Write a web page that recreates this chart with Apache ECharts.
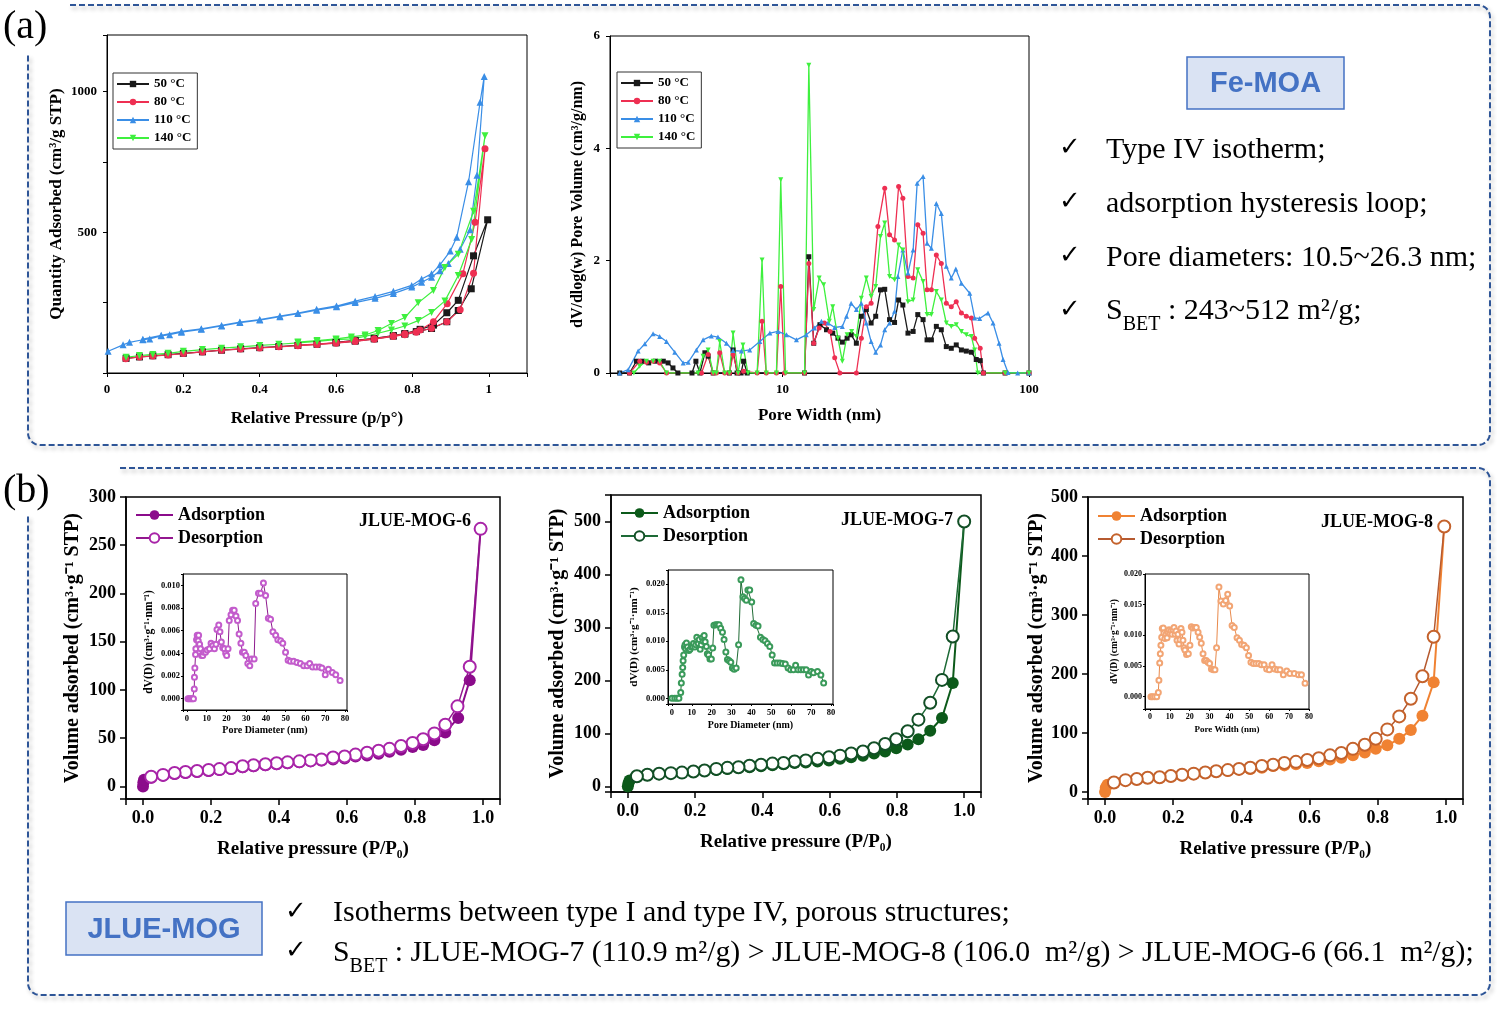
<!DOCTYPE html>
<html><head><meta charset="utf-8">
<script src="https://cdn.jsdelivr.net/npm/echarts@6.0.0/dist/echarts.min.js"></script>
<style>html,body{margin:0;padding:0;background:#fff}#c{width:1505px;height:1010px}</style>
</head><body><div id="c"></div><script>
// ================= DATA =================
// (a) left: N2 isotherms of Fe-MOA (adsorption branch, then desorption branch)
const aIso50_adsX = [0.05,0.085,0.12,0.16,0.2,0.25,0.3,0.35,0.4,0.45,0.5,0.55,0.6,0.65,0.7,0.75,0.78,0.81,0.85,0.89,0.92,0.954,0.997];
const aIso50_adsY = [52,57,61,65,70,75,81,86,90,94,98,102,107,113,121,131,138,147,158,182,222,299,544];
const aIso50_desX = [0.96,0.92,0.89,0.855,0.82,0.78,0.75,0.7,0.65,0.6];
const aIso50_desY = [416,258,214,170,155,140,133,123,116,109];

const aIso80_adsX = [0.049,0.085,0.12,0.16,0.2,0.25,0.3,0.35,0.4,0.45,0.5,0.55,0.6,0.65,0.7,0.75,0.78,0.81,0.85,0.89,0.925,0.96,0.99];
const aIso80_adsY = [51,57,60,64,69,75,81,85,89,93,97,101,106,112,120,130,136,145,159,182,225,354,796];
const aIso80_desX = [0.964,0.932,0.891,0.855,0.82,0.78,0.75,0.7,0.65,0.6,0.55,0.5];
const aIso80_desY = [535,352,246,182,153,139,132,122,115,108,103,99];

const aIso110_adsX = [0.003,0.042,0.059,0.094,0.112,0.142,0.164,0.195,0.247,0.3,0.348,0.4,0.453,0.5,0.549,0.601,0.65,0.702,0.75,0.798,0.824,0.85,0.872,0.894,0.925,0.951,0.969,0.988];
const aIso110_adsY = [77,100,109,118,121,132,136,145,155,167,179,188,200,211,223,235,250,265,282,305,322,340,363,389,439,509,702,1053];
const aIso110_desX = [0.977,0.947,0.916,0.899,0.872,0.85,0.824,0.798,0.75,0.702,0.65,0.601,0.549,0.5,0.453,0.4,0.348,0.3,0.247,0.195,0.142,0.094];
const aIso110_desY = [961,679,482,433,384,352,334,311,290,272,255,238,226,213,202,190,181,169,157,148,134,120];

const aIso140_adsX = [0.05,0.085,0.12,0.16,0.2,0.25,0.3,0.35,0.4,0.45,0.5,0.55,0.6,0.64,0.676,0.71,0.745,0.78,0.815,0.85,0.885,0.92,0.955,0.99];
const aIso140_adsY = [56,62,66,70,77,83,88,93,98,102,107,112,118,121,130,141,153,167,186,215,256,346,474,842];
const aIso140_desX = [0.96,0.92,0.885,0.855,0.815,0.78,0.745,0.71,0.676,0.64,0.6,0.55,0.5];
const aIso140_desY = [574,422,375,293,249,197,176,151,135,128,121,115,110];

// (a) right: pore size distribution (pore width nm, dV/dlog(w))
const aPsd50X = [2.19,2.4,2.56,2.7,2.87,3.06,3.29,3.44,3.6,3.77,4.3,4.46,4.63,4.85,5.0,5.24,6.1,6.31,6.55,6.8,6.96,7.2,12.3,12.8,13.4,14.2,15.1,16.0,16.8,17.5,18.3,19.0,19.95,20.9,21.9,22.9,23.9,25.0,26.0,27.2,28.5,29.6,30.8,32.3,33.9,35.4,37.2,38.6,40.2,42.1,44.1,46.2,48.4,50.7,53.2,55.7,58.4,61.1,63.4,65.3,80,100];
const aPsd50Y = [0,0,0.21,0.21,0.18,0.21,0.21,0.18,0.09,0,0,0.21,0,0.36,0.30,0,0,0.41,0,0,0.21,0,0,2.07,0.53,0.86,0.77,0.71,0.62,0.55,0.62,0.68,0.53,1.01,1.13,0.89,1.01,1.48,1.49,0.95,0.90,1.30,1.21,0.71,0.74,1.04,0.95,0.59,0.59,0.83,0.77,0.47,0.44,0.50,0.41,0.39,0.37,0.24,0.22,0,0,0];
const aPsd80X = [2.4,2.64,2.81,2.99,3.18,3.39,4.7,5.0,5.24,5.4,5.57,5.84,6.1,6.31,6.61,6.96,7.9,8.27,8.6,9.46,9.85,10.2,12.3,12.8,13.4,14.1,14.8,15.6,16.3,17.1,19.95,20.9,21.9,22.9,24.4,26.0,27.2,28.5,29.6,30.8,32.3,33.9,35.4,37.2,38.6,40.2,42.1,44.1,46.2,48.4,50.7,53.2,55.7,58.4,60.2,63.4,65.3,80,100];
const aPsd80Y = [0,0.21,0.19,0.21,0.18,0,0,0.33,0,0,0.36,0,0,0.33,0,0.03,0,0.92,0,0,1.54,0,0,1.95,0.53,0.80,0.89,0.74,0.27,0,0,0.62,1.18,1.24,2.61,3.29,2.46,2.37,3.32,3.11,1.72,1.69,2.64,2.49,1.48,1.48,2.10,1.95,1.24,1.18,1.27,1.07,1.01,0.98,0.62,0.44,0,0,0];
const aPsd110X = [2.19,2.37,2.6,2.77,2.99,3.18,3.39,3.66,3.96,4.15,4.48,4.77,5.15,5.48,5.93,6.31,6.82,7.37,8.1,8.9,9.6,10.4,11.4,12.5,13.5,14.4,15.3,16.3,17.5,18.2,19.0,19.95,20.9,21.9,22.9,23.9,25.0,26.0,27.2,28.5,29.4,30.8,32.3,33.9,35.2,37.2,38.6,40.2,42.1,44.1,46.2,48.4,50.5,53.2,57.5,60.2,63.1,68.2,71.5,75.6,78.5,82.2,90,100];
const aPsd110Y = [0,0.06,0.39,0.52,0.70,0.65,0.56,0.37,0.18,0.19,0.41,0.59,0.66,0.64,0.53,0.40,0.39,0.41,0.56,0.71,0.74,0.68,0.59,0.68,0.80,0.92,0.89,0.81,0.83,1.01,1.24,1.13,1.24,0.89,0.56,0.37,0.50,0.77,0.89,1.10,1.72,2.19,1.78,2.19,3.38,3.50,2.31,2.22,3.02,2.84,1.90,1.69,1.85,1.60,1.42,0.98,0.97,1.07,0.89,0.53,0.24,0.01,0,0];
const aPsd140X = [2.5,2.64,2.81,2.99,3.18,3.39,4.55,4.77,5.0,5.24,5.4,5.57,5.84,6.1,6.31,6.61,6.92,7.25,7.9,8.27,8.6,9.46,9.85,10.3,12.3,12.8,13.4,14.1,14.7,15.5,16.0,16.8,17.5,18.3,19.1,19.95,20.9,21.9,22.9,23.9,25.0,26.0,27.2,28.5,29.6,30.8,32.3,33.9,35.4,37.2,38.6,40.2,42.1,44.1,46.2,48.4,50.7,53.2,55.7,58.4,60.2,62,80,100];
const aPsd140Y = [0,0.12,0.21,0.21,0.21,0,0,0.30,0.41,0,0,0.56,0,0,0.71,0,0.50,0,0,2.01,0,0,3.44,0,0,5.48,1.13,1.69,1.57,0.92,1.18,0.62,0.21,0.68,0.74,0.65,1.33,1.69,1.36,1.54,2.43,2.67,1.72,1.66,2.28,2.19,1.27,1.30,1.84,1.63,1.04,1.04,1.45,1.30,0.89,0.83,0.86,0.74,0.68,0.65,0.41,0,0,0];

// (b) JLUE-MOG isotherms
const mog6_adsX = [0,0.001,0.003,0.024,0.059,0.093,0.125,0.159,0.193,0.225,0.259,0.293,0.325,0.36,0.393,0.425,0.46,0.493,0.525,0.559,0.593,0.625,0.659,0.693,0.725,0.759,0.793,0.824,0.857,0.889,0.927,0.961,0.993];
const mog6_adsY = [0,4,7,9,11,13,14,15,16,17,18,20,21,22,23,24,25,26,27,28,29,31,32,34,36,38,41,43,48,56,71,110,267];
const mog6_desX = [0.993,0.961,0.925,0.889,0.857,0.824,0.793,0.759,0.725,0.693,0.659,0.625,0.593,0.559,0.525,0.493,0.46,0.425,0.393,0.36,0.325,0.293,0.259,0.225,0.193,0.159,0.125,0.093,0.059,0.024];
const mog6_desY = [267,124,83,64,55,49,45,42,39,37,35,33,31,30,28,27,26,25,24,23,22,21,19,18,17,16,15,14,12,10];

const mog7_adsX = [0,0.002,0.005,0.027,0.058,0.093,0.128,0.161,0.195,0.228,0.263,0.296,0.329,0.362,0.396,0.43,0.463,0.496,0.529,0.564,0.598,0.631,0.664,0.699,0.732,0.765,0.798,0.832,0.864,0.899,0.934,0.966,1.0];
const mog7_adsY = [0,6,11,18,21,23,25,26,28,30,31,33,35,36,38,40,42,44,45,47,49,52,55,58,62,66,72,79,89,105,129,195,500];
const mog7_desX = [1.0,0.966,0.934,0.899,0.864,0.832,0.798,0.765,0.732,0.699,0.664,0.631,0.598,0.564,0.529,0.496,0.463,0.43,0.396,0.362,0.329,0.296,0.263,0.228,0.195,0.161,0.128,0.093,0.058,0.027];
const mog7_desY = [500,283,201,158,126,104,89,80,72,66,62,58,55,52,49,47,44,43,41,39,36,35,33,30,28,26,25,24,22,19];

const mog8_adsX = [0,0.002,0.007,0.026,0.06,0.093,0.125,0.16,0.193,0.226,0.26,0.294,0.326,0.36,0.393,0.426,0.46,0.493,0.526,0.56,0.593,0.627,0.66,0.693,0.727,0.762,0.794,0.828,0.863,0.897,0.931,0.964,0.995];
const mog8_adsY = [0,7,12,15,19,21,23,24,26,28,30,32,34,36,38,39,41,44,45,47,49,52,55,58,62,67,73,79,90,105,129,186,450];
const mog8_desX = [0.995,0.964,0.931,0.897,0.863,0.828,0.794,0.762,0.727,0.693,0.66,0.627,0.593,0.56,0.526,0.493,0.46,0.426,0.393,0.36,0.326,0.294,0.26,0.226,0.193,0.16,0.125,0.093,0.06,0.026];
const mog8_desY = [450,263,196,158,128,106,90,80,73,66,62,57,54,51,49,46,44,41,39,37,35,33,31,29,27,25,24,22,20,16];

// (b) insets: pore size distributions (nm, dV(D))
const mog6_psdX = [0.5,1,1.6,2.2,2.8,3.3,3.7,3.8,4.0,4.35,4.5,4.85,5.2,5.7,5.9,6.4,6.9,7.4,8.0,8.5,9.4,10.2,11.4,12.2,13.1,13.9,14.7,15.2,16.1,16.7,17.4,18.1,18.9,19.6,20.1,20.8,21.4,22.3,23.1,23.9,24.8,25.6,26.4,27.3,28.1,29.0,29.8,30.8,31.8,32.6,34.0,34.8,36.2,37.3,38.7,39.8,41.2,42.3,43.5,44.9,46.0,47.4,48.5,49.9,51.2,52.4,54.0,55.7,57.4,59.1,60.8,62.1,63.6,65.3,67.0,68.3,70.0,71.6,73.6,75.3,77.5];
const mog6_psdY = [0,0,0,0,0,0,0.00086,0.0019,0.0027,0.0039,0.0044,0.0052,0.0056,0.0051,0.0056,0.0048,0.0044,0.0038,0.0038,0.0041,0.0041,0.0043,0.0044,0.0049,0.0047,0.0044,0.0048,0.0061,0.0065,0.0059,0.005,0.0045,0.0044,0.004,0.0038,0.0044,0.0069,0.0074,0.0078,0.0078,0.0073,0.0069,0.0057,0.0049,0.0041,0.0041,0.0038,0.0031,0.0029,0.0035,0.0035,0.0084,0.0093,0.0093,0.0102,0.0091,0.0071,0.007,0.0059,0.0056,0.0052,0.0051,0.0049,0.0041,0.0034,0.0033,0.0033,0.0032,0.0031,0.0029,0.0029,0.0031,0.0028,0.0028,0.0028,0.0027,0.0021,0.0026,0.0023,0.0021,0.0016];
const mog7_psdX = [0,1.4,2.5,3.5,4.4,4.7,5.1,5.4,5.6,5.9,6.3,6.6,6.9,7.3,7.8,8.5,9.1,9.8,10.3,10.8,11.5,12.0,12.5,13.2,13.7,14.2,14.7,15.2,15.7,16.2,16.7,17.3,17.8,18.4,19.1,19.8,20.5,21.1,22.0,22.8,23.7,24.5,25.4,26.2,27.1,27.9,28.8,29.6,30.4,31.3,32.3,33.5,34.7,35.7,36.5,37.4,38.2,39.1,40.1,41.1,42.3,43.3,44.5,45.7,46.8,48.0,49.2,50.4,51.6,52.9,54.3,55.6,57.0,58.4,59.7,61.1,62.2,63.4,64.8,66.1,67.5,68.7,70.0,71.2,73.2,74.9,76.3];
const mog7_psdY = [0,0,0,0,0.001,0.0027,0.0042,0.0054,0.0066,0.0076,0.009,0.0094,0.0087,0.0097,0.009,0.0084,0.0086,0.009,0.0091,0.0096,0.009,0.0094,0.0107,0.0096,0.0103,0.0086,0.0094,0.0106,0.01,0.011,0.0099,0.0091,0.0078,0.0076,0.0069,0.0069,0.0088,0.0128,0.0129,0.0129,0.0129,0.0123,0.0116,0.0103,0.0081,0.0068,0.0066,0.0063,0.0053,0.0051,0.0053,0.0094,0.0208,0.0178,0.0175,0.0172,0.019,0.019,0.0169,0.0131,0.0128,0.0127,0.0107,0.0103,0.0101,0.0096,0.0091,0.0076,0.0062,0.0062,0.0062,0.0061,0.006,0.0053,0.005,0.005,0.0058,0.005,0.005,0.005,0.005,0.0041,0.0047,0.0045,0.0047,0.0041,0.0027];
const mog8_psdX = [0.5,1.2,2.3,3.4,4.2,4.5,4.9,5.2,5.5,5.9,6.2,6.7,7.0,7.5,8.1,8.6,9.1,9.6,10.1,10.6,11.1,11.6,12.1,12.6,13.1,13.6,14.1,14.6,15.1,15.6,16.1,16.6,17.1,17.6,18.4,19.3,20.1,20.8,21.6,22.5,23.3,24.2,25.0,25.8,26.7,27.5,28.3,29.2,30.0,30.9,31.9,32.7,33.5,34.7,35.7,36.9,38.1,39.1,40.1,41.3,42.4,43.8,45.0,46.1,47.3,48.5,49.6,50.8,52.0,53.3,54.7,56.0,57.4,58.7,60.0,61.4,62.7,64.1,65.4,67.1,68.8,70.4,72.6,74.7,76.2,78.0];
const mog8_psdY = [0,0,0,0,0.0007,0.0027,0.0055,0.007,0.0084,0.0097,0.0111,0.0112,0.0104,0.0095,0.0102,0.0096,0.0105,0.0109,0.0103,0.0108,0.0102,0.0109,0.0113,0.0102,0.0107,0.0092,0.0102,0.0086,0.0093,0.0111,0.0105,0.0092,0.008,0.0076,0.0069,0.007,0.0084,0.0114,0.0112,0.0113,0.0113,0.0105,0.0097,0.0087,0.007,0.0059,0.0059,0.0056,0.0054,0.0045,0.0044,0.0044,0.008,0.0179,0.0156,0.0151,0.0157,0.0167,0.0148,0.0116,0.0113,0.0096,0.0092,0.0085,0.0084,0.008,0.0067,0.0056,0.0054,0.0054,0.0054,0.0052,0.0052,0.0045,0.0044,0.0052,0.0045,0.0044,0.0044,0.0036,0.0042,0.0038,0.0038,0.0036,0.0036,0.0022];

const tempNames = ['50 °C','80 °C','110 °C','140 °C'];

// ================= HELPERS =================
const SERIF = "'Liberation Serif','Times New Roman',serif";
const SANS = "'Liberation Sans',Arial,sans-serif";
const zip = (xs, ys) => xs.map((x, i) => [x, ys[i]]);
const stepFmt = (step, dec) => v => {
  const r = v / step;
  if (Math.abs(r - Math.round(r)) > 1e-6) return '';
  return dec < 0 ? String(+v.toFixed(3)) : v.toFixed(dec);
};
const logFmt = v => { const l = Math.log10(v); return Math.abs(l - Math.round(l)) < 1e-6 ? String(Math.round(v)) : ''; };

function ax(gi, o) {
  const lw = o.lw || 1;
  const a = {
    type: o.type || 'value', gridIndex: gi, min: o.min, max: o.max,
    axisLine: { show: true, onZero: false, lineStyle: { color: '#000', width: lw } },
    axisTick: { show: true, inside: false, length: o.tl || 4, lineStyle: { color: '#000', width: lw } },
    axisLabel: { color: '#000', fontFamily: SERIF, fontWeight: 'bold', fontSize: o.fs || 12, margin: o.margin || 8, formatter: o.fmt },
    splitLine: { show: false },
    name: o.name || '', nameLocation: 'middle', nameGap: o.nameGap || 30,
    nameTextStyle: { color: '#000', fontFamily: SERIF, fontWeight: 'bold', fontSize: o.nfs || 16 }
  };
  if (o.interval !== undefined) a.interval = o.interval;
  if (o.splitNumber !== undefined) a.splitNumber = o.splitNumber;
  if (o.logBase) a.logBase = o.logBase;
  return a;
}
function ser(name, idx, data, o) {
  return {
    type: 'line', name, xAxisIndex: idx, yAxisIndex: idx, data,
    symbol: o.symbol, symbolSize: o.size, symbolRotate: o.rot || 0,
    lineStyle: { color: o.line || o.color, width: o.lw || 1.2 },
    itemStyle: { color: o.color, borderWidth: o.bw === undefined ? 1 : o.bw, borderColor: o.border || o.color },
    z: o.z || 2, clip: true, silent: true
  };
}

// ================= OPTION =================
const grids = [
  { left: 107, top: 35, width: 420, height: 338 },
  { left: 610, top: 36, width: 419, height: 337 },
  { left: 126, top: 497, width: 374, height: 302, borderWidth: 1.5 },
  { left: 183, top: 574, width: 164, height: 136 },
  { left: 611, top: 495, width: 370, height: 297, borderWidth: 1.5 },
  { left: 668, top: 570, width: 165, height: 134 },
  { left: 1088, top: 497, width: 375, height: 302, borderWidth: 1.5 },
  { left: 1145, top: 574, width: 164, height: 135 }
].map(g => Object.assign({ show: true, borderColor: '#000', borderWidth: 1, backgroundColor: '#fff' }, g));

const xAxes = [
  ax(0, { min: 0, max: 1.1, interval: 0.2, fmt: stepFmt(0.2, -1), fs: 13, margin: 10, name: 'Relative Pressure (p/p°)', nameGap: 37, nfs: 17 }),
  ax(1, { type: 'log', logBase: 10, min: 2, max: 100, fmt: logFmt, fs: 13, margin: 10, name: 'Pore Width (nm)', nameGap: 34, nfs: 17 }),
  ax(2, { min: -0.05, max: 1.05, splitNumber: 5, fmt: stepFmt(0.2, 1), fs: 18, margin: 10, tl: 6, lw: 1.5, name: 'Relative pressure (P/P₀)', nameGap: 41, nfs: 19 }),
  ax(3, { min: -2, max: 81, splitNumber: 8, fmt: stepFmt(10, 0), fs: 8.5, margin: 4, tl: 2, name: 'Pore Diameter (nm)', nameGap: 15, nfs: 10 }),
  ax(4, { min: -0.05, max: 1.05, splitNumber: 5, fmt: stepFmt(0.2, 1), fs: 18, margin: 10, tl: 6, lw: 1.5, name: 'Relative pressure (P/P₀)', nameGap: 41, nfs: 19 }),
  ax(5, { min: -2, max: 81, splitNumber: 8, fmt: stepFmt(10, 0), fs: 8.5, margin: 4, tl: 2, name: 'Pore Diameter (nm)', nameGap: 16, nfs: 10 }),
  ax(6, { min: -0.05, max: 1.05, splitNumber: 5, fmt: stepFmt(0.2, 1), fs: 18, margin: 10, tl: 6, lw: 1.5, name: 'Relative pressure (P/P₀)', nameGap: 41, nfs: 19 }),
  ax(7, { min: -2.5, max: 80, splitNumber: 8, fmt: stepFmt(10, 0), fs: 8, margin: 4, tl: 2, name: 'Pore Width (nm)', nameGap: 16, nfs: 9 })
];
const yAxes = [
  ax(0, { min: 0, max: 1200, interval: 250, fmt: v => (v === 500 || v === 1000) ? String(v) : '', fs: 13, margin: 10, name: 'Quantity Adsorbed (cm³/g STP)', nameGap: 42, nfs: 17 }),
  ax(1, { min: 0, max: 6, interval: 2, fs: 13, margin: 10, name: 'dV/dlog(w) Pore Volume (cm³/g/nm)', nameGap: 24, nfs: 16 }),
  ax(2, { min: -13, max: 300, splitNumber: 6, fmt: stepFmt(50, 0), fs: 18, margin: 10, tl: 6, lw: 1.5, name: 'Volume adsorbed (cm³·g⁻¹ STP)', nameGap: 43, nfs: 20 }),
  ax(3, { min: -0.001, max: 0.011, splitNumber: 6, fmt: stepFmt(0.002, 3), fs: 8.5, margin: 3, tl: 2, name: 'dV(D) (cm³·g⁻¹·nm⁻¹)', nameGap: 28, nfs: 11.5 }),
  ax(4, { min: -10.6, max: 550, splitNumber: 5, fmt: stepFmt(100, 0), fs: 18, margin: 10, tl: 6, lw: 1.5, name: 'Volume adsorbed (cm³·g⁻¹ STP)', nameGap: 43, nfs: 20 }),
  ax(5, { min: -0.001, max: 0.0225, splitNumber: 5, fmt: stepFmt(0.005, 3), fs: 8.5, margin: 3, tl: 2, name: 'dV(D) (cm³·g⁻¹·nm⁻¹)', nameGap: 28, nfs: 11 }),
  ax(6, { min: -12, max: 500, splitNumber: 5, fmt: stepFmt(100, 0), fs: 18, margin: 10, tl: 6, lw: 1.5, name: 'Volume adsorbed (cm³·g⁻¹ STP)', nameGap: 38, nfs: 20 }),
  ax(7, { min: -0.002, max: 0.020, splitNumber: 5, fmt: stepFmt(0.005, 3), fs: 8, margin: 3, tl: 2, name: 'dV(D) (cm³·g⁻¹·nm⁻¹)', nameGap: 25, nfs: 9.5 })
];

const tStyles = [
  { color: '#1a1a1a', symbol: 'rect' },
  { color: '#ee2f52', symbol: 'circle' },
  { color: '#3a8ee6', symbol: 'triangle' },
  { color: '#3ef03e', symbol: 'triangle', rot: 180 }
];
const isoSets = [
  [aIso50_adsX, aIso50_adsY, aIso50_desX, aIso50_desY],
  [aIso80_adsX, aIso80_adsY, aIso80_desX, aIso80_desY],
  [aIso110_adsX, aIso110_adsY, aIso110_desX, aIso110_desY],
  [aIso140_adsX, aIso140_adsY, aIso140_desX, aIso140_desY]
];
const psdSets = [[aPsd50X, aPsd50Y], [aPsd80X, aPsd80Y], [aPsd110X, aPsd110Y], [aPsd140X, aPsd140Y]];

const series = [];
isoSets.forEach((s, i) => {
  const st = tStyles[i];
  series.push(ser(tempNames[i], 0, zip(s[0], s[1]).concat(zip(s[2], s[3])), { color: st.color, symbol: st.symbol, rot: st.rot, size: 7, lw: 1.2, bw: 0 }));
});
psdSets.forEach((s, i) => {
  const st = tStyles[i];
  series.push(ser(tempNames[i], 1, zip(s[0], s[1]), { color: st.color, symbol: st.symbol, rot: st.rot, size: 5, lw: 1.3, bw: 0 }));
});

const mogSets = [
  { idx: 2, inset: 3, sfx: '', ads: [mog6_adsX, mog6_adsY], des: [mog6_desX, mog6_desY], psd: [mog6_psdX, mog6_psdY],
    fill: '#8b0b8b', hollow: '#a824a8', line: '#93178f', pLine: '#8e1a8e', pMark: '#c35ccc' },
  { idx: 4, inset: 5, sfx: ' ', ads: [mog7_adsX, mog7_adsY], des: [mog7_desX, mog7_desY], psd: [mog7_psdX, mog7_psdY],
    fill: '#0c5a1a', hollow: '#124f26', line: '#1d6a36', pLine: '#1f6b35', pMark: '#3a9a5a' },
  { idx: 6, inset: 7, sfx: '  ', ads: [mog8_adsX, mog8_adsY], des: [mog8_desX, mog8_desY], psd: [mog8_psdX, mog8_psdY],
    fill: '#f08232', hollow: '#c4622c', line: '#b65a30', pLine: '#e98a4c', pMark: '#f2a574' }
];
mogSets.forEach(m => {
  series.push(ser('Adsorption' + m.sfx, m.idx, zip(m.ads[0], m.ads[1]), { color: m.fill, symbol: 'circle', size: 12, lw: 2, line: m.fill, bw: 0 }));
  series.push(ser('Desorption' + m.sfx, m.idx, zip(m.des[0], m.des[1]), { color: m.hollow, symbol: 'emptyCircle', size: 12, lw: 1.5, line: m.line, bw: 1.5, z: 3 }));
  series.push(ser('PSD' + m.sfx, m.inset, zip(m.psd[0], m.psd[1]), { color: m.pMark, symbol: 'emptyCircle', size: 5, lw: 1, line: m.pLine, bw: 1, z: 4 }));
});

const legA = (left, top) => ({
  orient: 'vertical', left, top, data: tempNames, itemWidth: 32, itemHeight: 8, itemGap: 4,
  padding: [4, 6, 4, 3], borderColor: '#333', borderWidth: 1, backgroundColor: '#fff', selectedMode: false,
  textStyle: { fontFamily: SERIF, fontWeight: 'bold', fontSize: 13, color: '#000', lineHeight: 14 }
});
const legB = (left, top, sfx) => ({
  orient: 'vertical', left, top, data: ['Adsorption' + sfx, 'Desorption' + sfx], itemWidth: 37, itemHeight: 12, itemGap: 3,
  padding: 0, selectedMode: false, formatter: n => n.trim(),
  textStyle: { fontFamily: SERIF, fontWeight: 'bold', fontSize: 18, color: '#000', lineHeight: 20 }
});

// ---------- graphic (frames, labels, notes) ----------
const BLUE = '#2e5597';
function arcPts(cx, cy, r, a0, a1) {
  const pts = [];
  for (let k = 0; k <= 8; k++) { const a = a0 + (a1 - a0) * k / 8; pts.push([cx + r * Math.cos(a), cy + r * Math.sin(a)]); }
  return pts;
}
function framePts(x0, y0, x1, y1, r, startX, endY) {
  const P = Math.PI;
  return [[startX, y0]]
    .concat(arcPts(x1 - r, y0 + r, r, -P / 2, 0))
    .concat(arcPts(x1 - r, y1 - r, r, 0, P / 2))
    .concat(arcPts(x0 + r, y1 - r, r, P / 2, P))
    .concat([[x0, endY]]);
}
const dash = pts => ({ type: 'polyline', silent: true, shape: { points: pts },
  style: { fill: null, stroke: BLUE, lineWidth: 2, lineDash: [6, 3], shadowColor: 'rgba(0,0,0,0.28)', shadowBlur: 4, shadowOffsetX: 2, shadowOffsetY: 3 } });
const txt = (x, y, text, fs, o = {}) => ({ type: 'text', x, y, silent: true, z: 10,
  style: { text, fontSize: fs, fontFamily: o.ff || SERIF, fontWeight: o.fw || 'normal', fill: o.fill || '#000',
    align: o.align || 'left', verticalAlign: 'middle', rich: o.rich } });
const check = (x, y) => txt(x, y, '✓', 26, { ff: "'DejaVu Sans',sans-serif", align: 'center' });
const sbetRich = fs => ({
  n: { fontSize: fs, fontFamily: SERIF, fill: '#000', lineHeight: 48 },
  s: { fontSize: 20, fontFamily: SERIF, fill: '#000', lineHeight: 20, verticalAlign: 'bottom' }
});
const box = (x, y, w, h, label) => ([
  { type: 'rect', silent: true, shape: { x, y, width: w, height: h }, style: { fill: '#dae3f3', stroke: '#4472c4', lineWidth: 1.5 } },
  txt(x + w / 2, y + h / 2 + 1, label, 29, { ff: SANS, fw: 'bold', fill: '#4472c4', align: 'center' })
]);

const graphic = [
  dash(framePts(28, 5, 1490, 445, 12, 70, 55)),
  dash(framePts(28, 468, 1490, 995, 12, 120, 515)),
  txt(3, 27, '(a)', 40),
  txt(3, 491, '(b)', 40),
  ...box(1187, 57, 157, 52, 'Fe-MOA'),
  ...box(66, 902, 196, 53, 'JLUE-MOG'),
  check(1070, 148), txt(1106, 150, 'Type IV isotherm;', 30),
  check(1070, 202), txt(1106, 204, 'adsorption hysteresis loop;', 30),
  check(1070, 256), txt(1106, 258, 'Pore diameters: 10.5~26.3 nm;', 30),
  check(1070, 310), txt(1106, 311, '{n|S}{s|BET}{n| : 243~512 m²/g;}', 30, { rich: sbetRich(30) }),
  check(296, 912), txt(333, 913, 'Isotherms between type I and type IV, porous structures;', 30),
  check(296, 951), txt(333, 953, '{n|S}{s|BET}{n| : JLUE-MOG-7 (110.9 m²/g) > JLUE-MOG-8 (106.0  m²/g) > JLUE-MOG-6 (66.1  m²/g);}', 29.8, { rich: sbetRich(29.8) }),
  txt(471, 521, 'JLUE-MOG-6', 18, { fw: 'bold', align: 'right' }),
  txt(953, 520, 'JLUE-MOG-7', 18, { fw: 'bold', align: 'right' }),
  txt(1433, 522, 'JLUE-MOG-8', 18, { fw: 'bold', align: 'right' })
];

const chart = echarts.init(document.getElementById('c'), null, { renderer: 'canvas' });
chart.setOption({
  animation: false, backgroundColor: '#fff',
  grid: grids, xAxis: xAxes, yAxis: yAxes, series,
  legend: [legA(113, 73), legA(617, 72), legB(135, 505, ''), legB(620, 503, ' '), legB(1097, 506, '  ')],
  graphic
});
</script></body></html>
